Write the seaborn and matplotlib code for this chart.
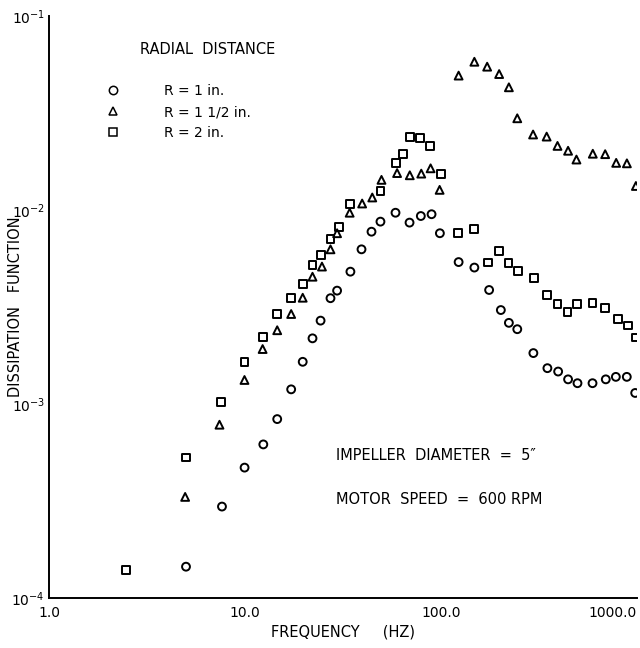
import numpy as np
import pandas as pd
import matplotlib
matplotlib.use("Agg")
import matplotlib.pyplot as plt
import seaborn as sns

# ---- data ----
freq_r1 = [5.0, 7.63, 9.95, 12.4, 14.6, 17.2, 19.7, 22.1, 24.3, 27.3, 29.5, 34.5,
           39.3, 44.2, 49.1, 58.6, 69.1, 78.9, 89.5, 98.7, 123, 148, 176, 202,
           222, 245, 296, 349, 396, 445, 497, 593, 693, 780, 887, 979]
diss_r1 = [1.45e-4, 2.96e-4, 4.70e-4, 6.19e-4, 8.36e-4, 1.19e-3, 1.65e-3, 2.18e-3,
           2.69e-3, 3.51e-3, 3.84e-3, 4.81e-3, 6.27e-3, 7.73e-3, 8.71e-3, 9.68e-3,
           8.61e-3, 9.31e-3, 9.51e-3, 7.59e-3, 5.39e-3, 5.05e-3, 3.87e-3, 3.05e-3,
           2.62e-3, 2.43e-3, 1.83e-3, 1.53e-3, 1.47e-3, 1.34e-3, 1.28e-3, 1.28e-3,
           1.34e-3, 1.38e-3, 1.38e-3, 1.14e-3]

freq_r15 = [4.95, 7.41, 9.94, 12.3, 14.6, 17.2, 19.7, 22.1, 24.7, 27.3, 29.5, 34.2,
            39.6, 44.6, 49.7, 59.7, 69.3, 79.3, 88.5, 98.4, 123, 148, 172, 198,
            222, 245, 295, 346, 393, 445, 491, 595, 688, 783, 888, 987]
diss_r15 = [3.32e-4, 7.82e-4, 1.33e-3, 1.92e-3, 2.40e-3, 2.91e-3, 3.53e-3, 4.53e-3,
            5.11e-3, 6.27e-3, 7.59e-3, 9.68e-3, 1.08e-2, 1.16e-2, 1.43e-2, 1.55e-2,
            1.51e-2, 1.54e-2, 1.64e-2, 1.27e-2, 4.93e-2, 5.81e-2, 5.48e-2, 5.02e-2,
            4.29e-2, 2.97e-2, 2.45e-2, 2.39e-2, 2.14e-2, 2.02e-2, 1.82e-2, 1.95e-2,
            1.94e-2, 1.75e-2, 1.74e-2, 1.33e-2]

freq_r2 = [2.47, 5.0, 7.54, 9.94, 12.3, 14.6, 17.2, 19.7, 22.1, 24.3, 27.3, 30.1,
           34.5, 49.1, 59.0, 63.9, 69.2, 78.4, 87.8, 99.5, 122, 148, 174, 198,
           221, 246, 298, 349, 393, 442, 493, 593, 688, 796, 902, 987]
diss_r2 = [1.39e-4, 5.30e-4, 1.02e-3, 1.64e-3, 2.22e-3, 2.92e-3, 3.53e-3, 4.14e-3,
           5.20e-3, 5.86e-3, 7.06e-3, 8.20e-3, 1.07e-2, 1.25e-2, 1.74e-2, 1.95e-2,
           2.37e-2, 2.35e-2, 2.14e-2, 1.53e-2, 7.64e-3, 7.96e-3, 5.36e-3, 6.17e-3,
           5.33e-3, 4.86e-3, 4.48e-3, 3.65e-3, 3.27e-3, 2.99e-3, 3.27e-3, 3.30e-3,
           3.11e-3, 2.74e-3, 2.54e-3, 2.20e-3]

series_labels = ["R = 1 in.", "R = 1 1/2 in.", "R = 2 in."]
x_ticks = [1, 10, 100, 1000]
x_ticklabels = ["1.0", "10.0", "100.0", "1000.0"]
y_ticks = [1e-4, 1e-3, 1e-2, 1e-1]
y_ticklabels = ["10$^{-4}$", "10$^{-3}$", "10$^{-2}$", "10$^{-1}$"]

df = pd.concat([
    pd.DataFrame({"freq": freq_r1, "diss": diss_r1, "series": series_labels[0]}),
    pd.DataFrame({"freq": freq_r15, "diss": diss_r15, "series": series_labels[1]}),
    pd.DataFrame({"freq": freq_r2, "diss": diss_r2, "series": series_labels[2]}),
], ignore_index=True)

sns.set_theme(style="white")
plt.rcParams["font.family"] = ["DejaVu Sans"]
plt.rcParams["text.color"] = "black"
plt.rcParams["axes.labelcolor"] = "black"
plt.rcParams["xtick.color"] = "black"
plt.rcParams["ytick.color"] = "black"

fig = plt.figure(figsize=(6.4, 6.48), dpi=100)
ax = fig.add_axes([49 / 640, 1 - 598 / 648, 588 / 640, 582 / 648])

markers = {series_labels[0]: "o", series_labels[1]: "^", series_labels[2]: "s"}
sns.scatterplot(data=df, x="freq", y="diss", style="series", markers=markers,
                hue="series", palette=["none", "none", "none"],
                edgecolor="black", linewidth=1.4, s=32, ax=ax, legend=True)
for coll in ax.collections:
    coll.set_facecolor("none")
    coll.set_edgecolor("black")

ax.set_xscale("log")
ax.set_yscale("log")
ax.set_xlim(1, 1000)
ax.set_ylim(1e-4, 1e-1)
ax.set_xticks(x_ticks)
ax.set_xticklabels(x_ticklabels)
ax.set_yticks(y_ticks)
ax.set_yticklabels(y_ticklabels)
ax.minorticks_off()
ax.tick_params(axis="both", direction="in", length=6, width=1.2,
               labelsize=10, colors="black")
ax.tick_params(axis="y", pad=3)
ax.tick_params(axis="x", pad=6)
xlabels = ax.get_xticklabels()
xlabels[-1].set_horizontalalignment("right")

for side in ["top", "right"]:
    ax.spines[side].set_visible(False)
for side in ["left", "bottom"]:
    ax.spines[side].set_color("black")
    ax.spines[side].set_linewidth(1.4)

ax.set_xlabel("FREQUENCY     (HZ)", fontsize=10.5, color="black")
ax.set_ylabel("DISSIPATION   FUNCTION", fontsize=10.5, color="black")
ax.xaxis.set_label_coords(0.5, -0.046)
ax.yaxis.set_label_coords(-0.045, 0.5)

# legend
handles, labels = ax.get_legend_handles_labels()
for h in handles:
    h.set_markerfacecolor("none")
    h.set_markeredgecolor("black")
    h.set_markeredgewidth(1.1)
    h.set_markersize(6)
leg = ax.legend(handles, labels, loc="upper left", bbox_to_anchor=(0.097, 0.883),
                frameon=False, handlelength=1.0, handletextpad=3.2,
                labelspacing=0.5, borderpad=0, borderaxespad=0, fontsize=10)
for t in leg.get_texts():
    t.set_color("black")

ax.text(0.155, 0.942, "RADIAL  DISTANCE", transform=ax.transAxes, fontsize=10.5,
        va="center", ha="left", color="black")
ax.text(0.488, 0.244, "IMPELLER  DIAMETER  =  5\u2033", transform=ax.transAxes,
        fontsize=10.5, va="center", ha="left", color="black")
ax.text(0.488, 0.170, "MOTOR  SPEED  =  600 RPM", transform=ax.transAxes,
        fontsize=10.5, va="center", ha="left", color="black")

fig.savefig("out.png", dpi=100)
